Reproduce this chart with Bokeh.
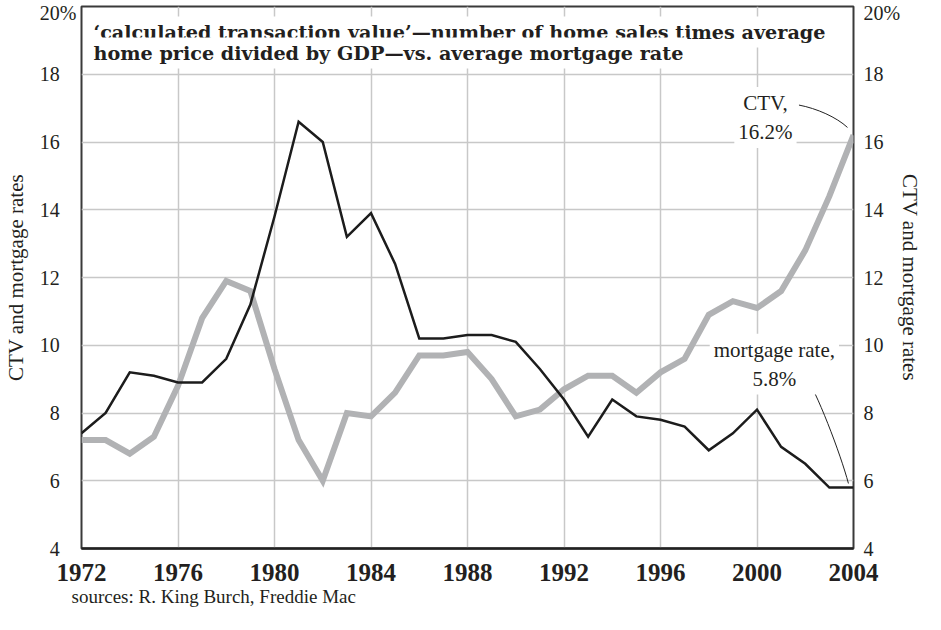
from bokeh.plotting import figure
from bokeh.models import Range1d, LinearAxis, FixedTicker, Label, Title
from bokeh.embed import file_html
from bokeh.resources import INLINE

# ---- data ----
years = list(range(1972, 2005))
mortgage_rate = [7.4, 8.0, 9.2, 9.1, 8.9, 8.9, 9.6, 11.2, 13.8, 16.6,
                 16.0, 13.2, 13.9, 12.4, 10.2, 10.2, 10.3, 10.3, 10.1, 9.3,
                 8.4, 7.3, 8.4, 7.9, 7.8, 7.6, 6.9, 7.4, 8.1, 7.0,
                 6.5, 5.8, 5.8]
ctv = [7.2, 7.2, 6.8, 7.3, 8.8, 10.8, 11.9, 11.6, 9.3, 7.2,
       6.0, 8.0, 7.9, 8.6, 9.7, 9.7, 9.8, 9.0, 7.9, 8.1,
       8.7, 9.1, 9.1, 8.6, 9.2, 9.6, 10.9, 11.3, 11.1, 11.6,
       12.8, 14.4, 16.2]
x_ticks = [1972, 1976, 1980, 1984, 1988, 1992, 1996, 2000, 2004]
y_ticks = [4, 6, 8, 10, 12, 14, 16, 18]
y_top = 20
y_top_label = "20%"
title_line1 = "\u2018calculated transaction value\u2019\u2014number of home sales times average"
title_line2 = "home price divided by GDP\u2014vs. average mortgage rate"
axis_title = "CTV and mortgage rates"
ctv_note = "CTV,\n16.2%"
mort_note = "mortgage rate,\n5.8%"
source_note = "sources: R. King Burch, Freddie Mac"

SERIF = "Liberation Serif"
INK = "#231f20"
PCT_PAD = "\u2002\u2004"   # invisible width of a "%" so numbers line up

p = figure(width=925, height=614, output_backend="svg", toolbar_location=None,
           x_range=Range1d(years[0], years[-1]), y_range=Range1d(4, y_top),
           min_border_left=77, min_border_right=68, min_border_top=6,
           min_border_bottom=66)
p.background_fill_color = "white"
p.border_fill_color = "white"
p.outline_line_color = "#3a3a3a"
p.outline_line_width = 2

# grid
for g in (p.xgrid, p.ygrid):
    g.grid_line_color = "#c8c8c8"
    g.grid_line_width = 1.5
p.xgrid.ticker = FixedTicker(ticks=x_ticks)
p.ygrid.ticker = FixedTicker(ticks=y_ticks)

# bottom axis
xa = p.xaxis[0]
xa.ticker = FixedTicker(ticks=x_ticks)
xa.axis_line_color = "#222222"
xa.axis_line_width = 2.5
xa.major_tick_line_color = None
xa.minor_tick_line_color = None
xa.major_tick_out = 0
xa.major_tick_in = 0
xa.major_label_standoff = 15
xa.major_label_text_font = SERIF
xa.major_label_text_font_style = "bold"
xa.major_label_text_font_size = "25px"
xa.major_label_text_color = INK

# the top label sits a little below the frame edge, as in the reference
top_tick = y_top - 0.18
label_ticks = y_ticks + [top_tick]

ya = p.yaxis[0]
right = LinearAxis()
p.add_layout(right, "right")
left_over = {t: f"{t}{PCT_PAD}" for t in y_ticks}
left_over[top_tick] = y_top_label
right_over = {t: f"{t}" for t in y_ticks}
right_over[top_tick] = y_top_label
for ax, st, lst, over in ((ya, 5, 9, left_over), (right, 10, -5, right_over)):
    ax.ticker = FixedTicker(ticks=label_ticks)
    ax.major_label_overrides = over
    ax.axis_line_color = None
    ax.major_tick_line_color = None
    ax.minor_tick_line_color = None
    ax.major_tick_out = 0
    ax.major_tick_in = 0
    ax.major_label_standoff = st
    ax.major_label_text_font = SERIF
    ax.major_label_text_font_size = "20px"
    ax.major_label_text_color = INK
    ax.axis_label = axis_title
    ax.axis_label_text_font = SERIF
    ax.axis_label_text_font_style = "normal"
    ax.axis_label_text_font_size = "21px"
    ax.axis_label_text_color = INK
    ax.axis_label_standoff = lst

# sources line under the x axis
p.add_layout(Title(text=source_note, align="left", offset=-10, standoff=0,
                   text_font=SERIF, text_font_style="normal",
                   text_font_size="19px", text_color=INK), "below")

# series
p.line(years, ctv, line_color="#b1b2b4", line_width=6, line_join="miter")
p.line(years, mortgage_rate, line_color="#1c1c1c", line_width=2.5, line_join="miter")

# title lines inside the frame
for txt, yo in ((title_line1, -10), (title_line2, -31)):
    p.add_layout(Label(x=years[0], y=y_top, x_offset=8, y_offset=yo, text=txt,
                       text_align="left", text_baseline="top",
                       text_font="DejaVu Serif", text_font_style="bold",
                       text_font_size="19.2px", text_color=INK,
                       background_fill_color="white", padding=4))

# annotations
p.add_layout(Label(x=2000.35, y=17.62, text=ctv_note, text_align="center",
                   text_baseline="top", text_font=SERIF, text_font_size="21px",
                   text_color=INK, background_fill_color="white", padding=4))
p.add_layout(Label(x=2000.72, y=10.34, text=mort_note, text_align="center",
                   text_baseline="top", text_font=SERIF, text_font_size="21px",
                   text_color=INK, background_fill_color="white", padding=4))

# leader curves, relative to last points
lx, lc, lm = years[-1], ctv[-1], mortgage_rate[-1]
p.bezier(x0=[lx - 2.26, lx - 2.05], y0=[lc + 0.89, lm + 3.35],
         x1=[lx - 0.25, lx - 0.21], y1=[lc + 0.23, lm + 0.12],
         cx0=[lx - 1.52, lx - 1.56], cy0=[lc + 0.79, lm + 2.91],
         cx1=[lx - 0.70, lx - 0.53], cy1=[lc + 0.53, lm + 0.98],
         line_color="#222222", line_width=1)

open("out.html", "w").write(file_html(p, INLINE))
